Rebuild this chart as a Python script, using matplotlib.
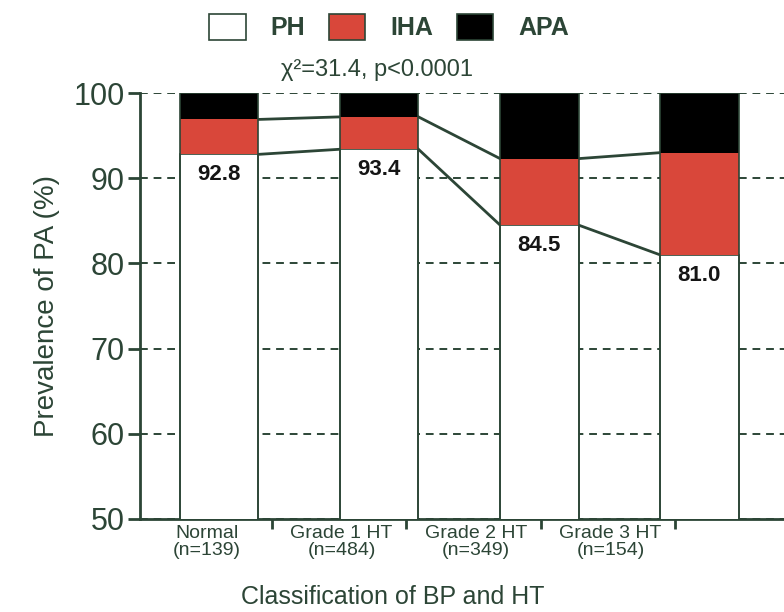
import matplotlib
matplotlib.use("Agg")
import matplotlib.pyplot as plt
from matplotlib.patches import Patch
import numpy as np

# data
groups = ["Normal\n(n=139)", "Grade 1 HT\n(n=484)", "Grade 2 HT\n(n=349)", "Grade 3 HT\n(n=154)"]
ph = [92.8, 93.4, 84.5, 81.0]
iha = [4.1, 3.8, 7.8, 12.0]
apa = [3.1, 2.8, 7.7, 7.0]
ph_labels = ["92.8", "93.4", "84.5", "81.0"]
yticks = [50, 60, 70, 80, 90, 100]

ink = "#2c4536"
red = "#d9473a"
plt.rcParams["font.family"] = ["Liberation Sans", "DejaVu Sans"]

fig = plt.figure(figsize=(7.84, 6.12), dpi=100)
ax = fig.add_axes([0.1786, 0.152, 0.836, 0.696])

x = np.arange(len(groups))
w = 0.49
ph_a = np.array(ph)
iha_a = np.array(iha)
apa_a = np.array(apa)

ax.bar(x, ph_a, w, color="white", edgecolor=ink, linewidth=1.2, zorder=3)
ax.bar(x, iha_a, w, bottom=ph_a, color=red, edgecolor="none", zorder=3)
ax.bar(x, apa_a, w, bottom=ph_a + iha_a, color="black", edgecolor="none", zorder=3)
# outline of full bars
ax.bar(x, ph_a + iha_a + apa_a, w, color="none", edgecolor=ink, linewidth=1.2, zorder=4)

# connecting lines between bar segments
for level in (ph_a, ph_a + iha_a):
    for i in range(len(x) - 1):
        ax.plot([x[i] + w / 2, x[i + 1] - w / 2], [level[i], level[i + 1]],
                color=ink, lw=2, zorder=2)

for i, lab in enumerate(ph_labels):
    ax.annotate(lab, (x[i], ph_a[i]), xytext=(0, -7), textcoords="offset points",
                ha="center", va="top", fontsize=16, fontweight="bold", color="#151515", zorder=5)

ax.set_ylim(50, 100)
ax.set_xlim(-0.494, 3.6)
ax.set_yticks(yticks)
ax.tick_params(axis="y", direction="out", length=9, width=2, color=ink, labelsize=22,
               labelcolor=ink, pad=2)
ax.yaxis.grid(True, linestyle=(0, (4, 3)), color=ink, lw=1.4, zorder=0)
ax.set_axisbelow(True)

# category labels sit on their own (compressed) spacing in the reference
lab_pos = -0.075 + x * 0.84
ax.set_xticks(lab_pos)
ax.set_xticklabels(groups, fontsize=14, color=ink, linespacing=1.0)
ax.tick_params(axis="x", length=0, pad=4)
ax.set_xticks(lab_pos + 0.405, minor=True)
ax.tick_params(axis="x", which="minor", direction="out", length=7, width=2, color=ink)

for s in ("top", "right"):
    ax.spines[s].set_visible(False)
ax.spines["left"].set_color(ink)
ax.spines["left"].set_linewidth(2)
ax.spines["bottom"].set_color(ink)
ax.spines["bottom"].set_linewidth(2)

ax.set_ylabel("Prevalence of PA (%)", fontsize=20, color=ink, labelpad=10)
ax.set_xlabel("Classification of BP and HT", fontsize=18, color=ink, va="center")
ax.xaxis.set_label_coords(0.385, -0.183)

fig.text(377 / 784, 1 - 70 / 612, "χ²=31.4, p<0.0001", ha="center", va="center",
         fontsize=17, color=ink)

handles = [Patch(facecolor="white", edgecolor=ink, lw=1.2),
           Patch(facecolor=red, edgecolor=ink, lw=1.2),
           Patch(facecolor="black", edgecolor=ink, lw=1.2)]
leg = fig.legend(handles, ["PH", "IHA", "APA"], loc="center", ncol=3,
                 bbox_to_anchor=(389 / 784, 1 - 27 / 612), frameon=False,
                 prop={"weight": "bold", "size": 18}, handlelength=1.45, handleheight=1.2,
                 handletextpad=1.0, columnspacing=0.95)
for t in leg.get_texts():
    t.set_color(ink)

fig.savefig("out.png", dpi=100, facecolor="white")
